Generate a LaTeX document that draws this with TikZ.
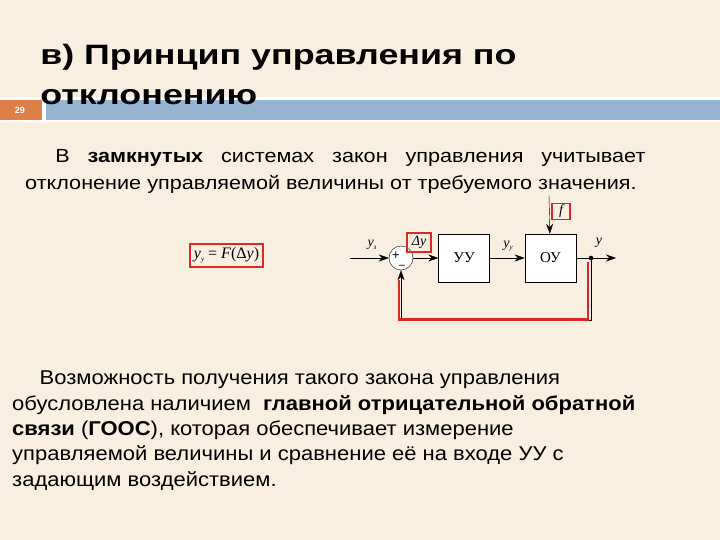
\documentclass[tikz,border=0pt]{standalone}
\usepackage{fontspec}
\setmainfont{Liberation Sans}
\newfontfamily\tnr{Liberation Serif}
\usetikzlibrary{positioning, arrows.meta}
\definecolor{slidebg}{RGB}{248,239,225}
\definecolor{barblue}{RGB}{148,180,210}
\definecolor{numorange}{RGB}{221,128,71}
\definecolor{markred}{RGB}{222,40,40}
\newcommand{\sigvar}[2]{\textit{#1}\raisebox{-0.4ex}{\scriptsize\itshape #2}}
\tikzset{
  block/.style={
    draw,
    rectangle,
    fill=white,
    minimum width=51pt,
    minimum height=48pt,
    inner sep=0pt,
    font=\tnr\fontsize{15}{15}\selectfont
  },
  sumnode/.style={
    draw,
    circle,
    fill=white,
    minimum size=24pt,
    inner sep=0pt
  },
  signal/.style={
    -{Stealth[length=10pt,width=7pt]}
  },
  redmark/.style={
    draw=markred,
    line width=1.3pt,
    inner sep=1.5pt
  },
  lbl/.style={
    font=\tnr\itshape\fontsize{14}{14}\selectfont,
    inner sep=1pt
  },
  titletext/.style={
    anchor=base west,
    inner sep=0pt,
    xscale=1.28,
    font=\bfseries\fontsize{28}{28}\selectfont
  }
}

\begin{document}
\begin{tikzpicture}[x=1pt, y=-1pt]
        \fill[slidebg] (0,0) rectangle (720,540);
        \useasboundingbox (0,0) rectangle (720,540);

        % header bar
        \fill[white] (0,97) rectangle (720,122);
        \fill[numorange] (0,100) rectangle (42,120);
        \fill[barblue] (46,100) rectangle (720,120);
        \node[text=white, font=\bfseries\fontsize{9}{9}\selectfont] (num) at (20,110.5) {29};

        \node[titletext] (title1) at (40,65) {в) Принцип управления по};
        \node[titletext] (title2) at (40,105) {отклонению};

        \node[anchor=base west, inner sep=0pt, xscale=1.138, text width=545pt, align=justify,
              font=\fontsize{19}{26.5}\selectfont] (intro) at (25,163)
          {\hspace*{26.4pt}В \textbf{замкнутых} системах закон управления учитывает\linebreak
           отклонение управляемой величины от требуемого значения.};

        % formula
        \node[redmark, font=\tnr\fontsize{16}{16}\selectfont, minimum width=73pt, minimum height=23pt] (law) at (226.5,255.5)
          {\sigvar{y}{у} = \textit{F}(Δ\textit{y})};

        % block diagram
        \node[sumnode] (sum) at (401,258) {};
        \node[font=\fontsize{13}{13}\selectfont, inner sep=0pt] (plus) at (396,256) {+};
        \node[font=\fontsize{11}{11}\selectfont, inner sep=0pt] (minus) at (402,267) {–};
        \node[block] (uu) at (464,258) {УУ};
        \node[block, right=35pt of uu] (ou) {ОУ};

        \coordinate (inp) at (350,258);
        \coordinate (branch) at (591,258);
        \coordinate (outp) at (616,258);
        \coordinate (ftop) at (549,195);
        \coordinate (fbcorner) at (401,320);

        \draw[signal] (inp) -- (sum);
        \draw[signal] (sum) -- (uu);
        \draw[signal] (uu) -- (ou);
        \draw[signal] (ou) -- (outp);
        \draw[signal] (ftop) -- (ou);
        \draw[signal] (branch) |- (fbcorner) -- (sum);
        \fill (branch) circle (2.3pt);

        % highlighted feedback
        \coordinate (redtop) at (588,262);
        \coordinate (redleft) at (399,319.5);
        \coordinate (redend) at (399,280);
        \draw[markred, line width=2.5pt] (redtop) |- (redleft) -- (redend);

        \node[lbl] (yz) at (372,245) {\sigvar{y}{з}};
        \node[lbl, redmark, minimum width=24pt, minimum height=19pt] (dy) at (419,242.5) {Δ\textit{y}};
        \node[lbl] (yu) at (508,246) {\sigvar{y}{у}};
        \node[lbl, redmark, minimum width=18pt, minimum height=14pt] (f) at (561,211.5) {\textit{f}};
        \node[lbl] (y) at (599,243) {\textit{y}};

        \node[anchor=base west, inner sep=0pt, xscale=1.1, align=left,
              font=\fontsize{20}{25.3}\selectfont] (summary) at (12,486)
          {\hspace*{25pt}Возможность получения такого закона управления\\
           обусловлена наличием\ \ \textbf{главной отрицательной обратной}\\
           \textbf{связи} (\textbf{ГООС}), которая обеспечивает измерение\\
           управляемой величины и сравнение её на входе УУ с\\
           задающим воздействием.};
      \end{tikzpicture}
\end{document}
